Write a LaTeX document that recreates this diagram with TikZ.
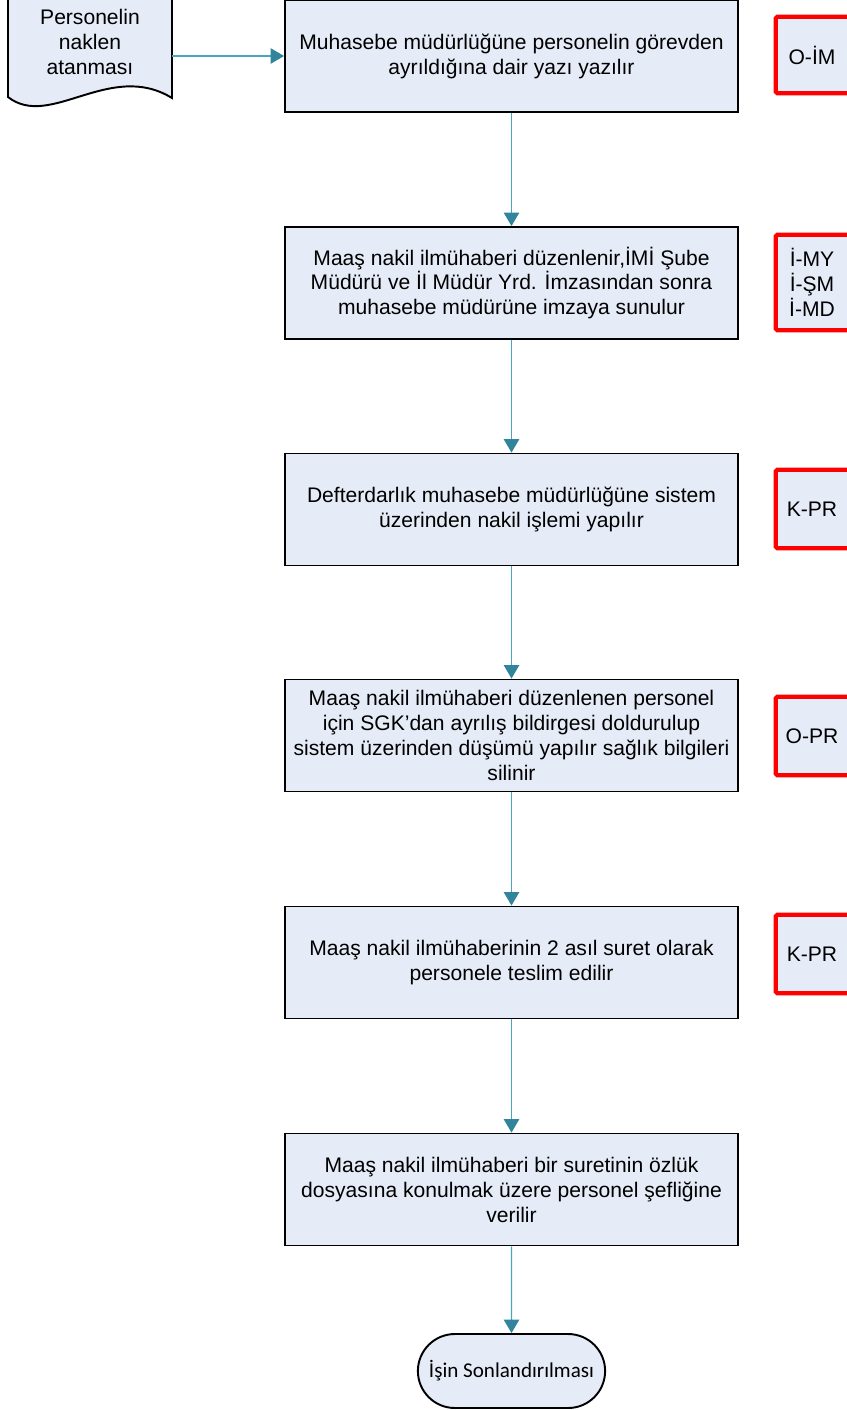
\documentclass[tikz,border=0pt]{standalone}
\usepackage{fontspec}
\setmainfont{Liberation Sans}
\newfontfamily\endfont{Carlito}
\usetikzlibrary{arrows.meta, positioning, shapes.misc}
\definecolor{boxfill}{RGB}{230,236,247}
\definecolor{flowline}{RGB}{75,165,192}
\definecolor{flowtip}{RGB}{49,132,155}
\definecolor{codered}{RGB}{255,0,0}
\def\boxW{9.06cm}
\def\boxH{2.24cm}
\def\codeW{1.44cm}
\def\midX{511.5}
\def\codeX{812}
\newcommand{\codeframe}[1]{%
% #1 = code node, frame runs off the right edge
\fill[boxfill] (#1.north east) rectangle ([xshift=0.6cm]#1.south east);
\draw[codered, line width=2.4pt, rounded corners=1pt]
([xshift=0.6cm]#1.north east) -- (#1.north west) -- (#1.south west) -- ([xshift=0.6cm]#1.south east);
}
\begin{document}
\begin{tikzpicture}[
    x=0.02cm, y=-0.02cm,
    >={Triangle[length=2.7mm,width=3.1mm,color=flowtip]},
    every node/.style={font=\fontsize{12}{14.2}\selectfont, align=center},
    stepbox/.style={draw, line width=1.1pt, fill=boxfill, minimum width=\boxW, minimum height=\boxH, inner sep=2pt},
    codebox/.style={fill=boxfill, minimum width=\codeW},
    flow/.style={->, draw=flowline, line width=0.65pt}
]
\useasboundingbox (0,0) rectangle (846,1410);

% starting document
\draw[line width=1.1pt, fill=boxfill] (8,-4) -- (172,-4) -- (172,98)
    .. controls (110,60) and (50,130) .. (8,97) -- cycle;
\node[minimum width=3.28cm] (doc) at (90,42) {Personelin\\naklen\\atanması};

% steps
\node[stepbox] (s1) at (\midX,56) {Muhasebe müdürlüğüne personelin görevden\\ayrıldığına dair yazı yazılır};
\node[stepbox] (s2) at (\midX,283) {Maaş nakil ilmühaberi düzenlenir,İMİ Şube\\Müdürü ve İl Müdür Yrd. İmzasından sonra\\muhasebe müdürüne imzaya sunulur};
\node[stepbox] (s3) at (\midX,509.5) {Defterdarlık muhasebe müdürlüğüne sistem\\üzerinden nakil işlemi yapılır};
\node[stepbox] (s4) at (\midX,735.5) {Maaş nakil ilmühaberi düzenlenen personel\\için SGK’dan ayrılış bildirgesi doldurulup\\sistem üzerinden düşümü yapılır sağlık bilgileri\\silinir};
\node[stepbox] (s5) at (\midX,962.5) {Maaş nakil ilmühaberinin 2 asıl suret olarak\\personele teslim edilir};
\node[stepbox] (s6) at (\midX,1189.5) {Maaş nakil ilmühaberi bir suretinin özlük\\dosyasına konulmak üzere personel şefliğine\\verilir};
\node[draw, line width=1.1pt, fill=boxfill, rounded rectangle, minimum width=3.98cm, minimum height=1.48cm,
    font=\endfont\fontsize{12}{14}\selectfont] (end) at (\midX,1371) {İşin Sonlandırılması};

% responsible codes
\node[codebox, minimum height=1.52cm] (c1) at (\codeX,55) {O-İM};
\node[codebox, minimum height=1.9cm] (c2) at (\codeX,282.5) {İ-MY\\İ-ŞM\\İ-MD};
\node[codebox, minimum height=1.56cm] (c3) at (\codeX,509) {K-PR};
\node[codebox, minimum height=1.56cm] (c4) at (\codeX,736) {O-PR};
\node[codebox, minimum height=1.56cm] (c5) at (\codeX,954) {K-PR};
\codeframe{c1}
\codeframe{c2}
\codeframe{c3}
\codeframe{c4}
\codeframe{c5}

% flow
\draw[flow] (doc.east |- s1.west) -- (s1.west);
\draw[flow] (s1) -- (s2);
\draw[flow] (s2) -- (s3);
\draw[flow] (s3) -- (s4);
\draw[flow] (s4) -- (s5);
\draw[flow] (s5) -- (s6);
\draw[flow] (s6) -- (end);
\end{tikzpicture}
\end{document}
